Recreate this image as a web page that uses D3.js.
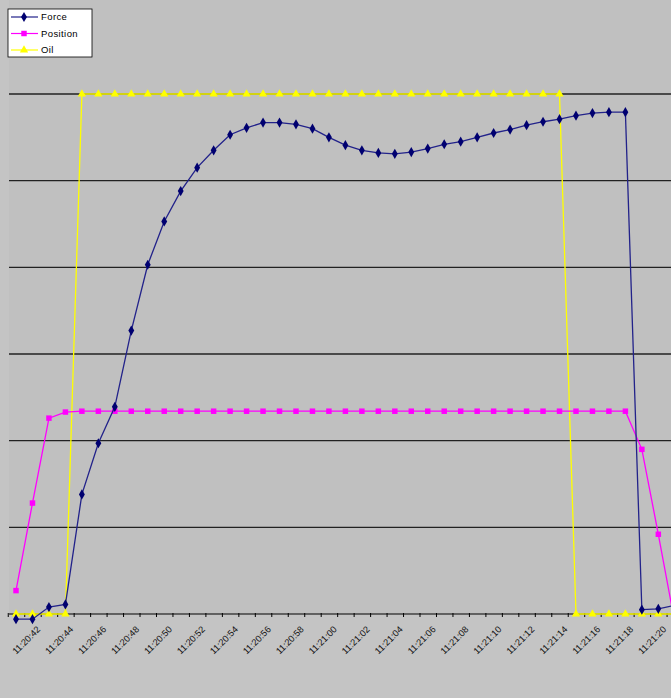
<!DOCTYPE html>
<html>
<head>
<meta charset="utf-8">
<script src="https://cdn.jsdelivr.net/npm/d3@7"></script>
<style>
  body { margin: 0; background: #c4c4c4; }
  svg { display: block; font-family: "Liberation Sans", Arial, sans-serif; }
</style>
</head>
<body>
<div id="chart"></div>
<script>
// categories (one reading per second)
var times = ["11:20:41", "11:20:42", "11:20:43", "11:20:44", "11:20:45", "11:20:46", "11:20:47",
	"11:20:48", "11:20:49", "11:20:50", "11:20:51", "11:20:52", "11:20:53", "11:20:54",
	"11:20:55", "11:20:56", "11:20:57", "11:20:58", "11:20:59", "11:21:00", "11:21:01",
	"11:21:02", "11:21:03", "11:21:04", "11:21:05", "11:21:06", "11:21:07", "11:21:08",
	"11:21:09", "11:21:10", "11:21:11", "11:21:12", "11:21:13", "11:21:14", "11:21:15",
	"11:21:16", "11:21:17", "11:21:18", "11:21:19", "11:21:20", "11:21:21"];

// tick labels shown under the axis
var timeLabels = ["11:20:42", "11:20:44", "11:20:46", "11:20:48", "11:20:50", "11:20:52",
	"11:20:54", "11:20:56", "11:20:58", "11:21:00", "11:21:02", "11:21:04", "11:21:06",
	"11:21:08", "11:21:10", "11:21:12", "11:21:14", "11:21:16", "11:21:18", "11:21:20"];

var force = [-0.06, -0.06, 0.08, 0.11, 1.38, 1.97, 2.39, 3.27, 4.03, 4.53, 4.88, 5.15, 5.35, 5.53,
	5.61, 5.67, 5.67, 5.65, 5.60, 5.50, 5.41, 5.35, 5.32, 5.31, 5.33, 5.37, 5.42, 5.45,
	5.50, 5.55, 5.59, 5.64, 5.68, 5.71, 5.75, 5.78, 5.79, 5.79, 0.05, 0.06, 0.10];

var position = [0.27, 1.28, 2.26, 2.33, 2.34, 2.34, 2.34, 2.34, 2.34, 2.34, 2.34, 2.34, 2.34, 2.34,
	2.34, 2.34, 2.34, 2.34, 2.34, 2.34, 2.34, 2.34, 2.34, 2.34, 2.34, 2.34, 2.34, 2.34,
	2.34, 2.34, 2.34, 2.34, 2.34, 2.34, 2.34, 2.34, 2.34, 2.34, 1.90, 0.92, -0.10];

var oil = [0, 0, 0, 0, 6, 6, 6, 6, 6, 6, 6, 6, 6, 6,
	6, 6, 6, 6, 6, 6, 6, 6, 6, 6, 6, 6, 6, 6,
	6, 6, 6, 6, 6, 6, 0, 0, 0, 0, 0, 0, 0];

var gridValues = [1, 2, 3, 4, 5, 6];

var Width = 671, Height = 698;
var plot = {left: 9, top: 0, right: 700, bottom: 614};

var series = [
	{name: "Force", values: force, color: "#000070", line: "#22228a", symbol: d3.symbolDiamond, size: 30},
	{name: "Position", values: position, color: "#ff00ff", line: "#ff00ff", symbol: d3.symbolSquare, size: 30},
	{name: "Oil", values: oil, color: "#ffff00", line: "#ffff00", symbol: d3.symbolTriangle, size: 30}
];

var svg = d3.select("#chart")
	.append("svg")
	.attr("width", Width)
	.attr("height", Height);

// plot area
svg.append("rect")
	.attr("x", plot.left)
	.attr("y", plot.top)
	.attr("width", plot.right - plot.left)
	.attr("height", plot.bottom - plot.top)
	.attr("fill", "#c0c0c0");

var xScale = d3.scalePoint()
	.domain(times)
	.range([16, 16 + 16.47 * (times.length - 1)]);

var yScale = d3.scaleLinear()
	.domain([0, 6])
	.range([614, 94]);

// horizontal gridlines
svg.append("g")
	.selectAll("line")
	.data(gridValues)
	.enter()
	.append("line")
	.attr("x1", plot.left)
	.attr("x2", plot.right)
	.attr("y1", function(d) { return yScale(d); })
	.attr("y2", function(d) { return yScale(d); })
	.attr("stroke", "#222")
	.attr("stroke-width", 1.3);

// tick marks sit between the categories
var step = xScale.step();
var tickAxis = svg.append("g")
	.attr("transform", "translate(" + (-step / 2) + "," + yScale(0) + ")")
	.call(d3.axisBottom(xScale).tickSize(3).tickSizeOuter(0).tickFormat(""));
tickAxis.select(".domain").remove();
tickAxis.selectAll("line").attr("stroke", "#000").attr("y1", -1);

// axis line
svg.append("line")
	.attr("x1", plot.left)
	.attr("x2", plot.right)
	.attr("y1", yScale(0))
	.attr("y2", yScale(0))
	.attr("stroke", "#000")
	.attr("stroke-width", 1.2);

// rotated time labels
var labelAxis = svg.append("g")
	.attr("transform", "translate(0," + yScale(0) + ")")
	.call(d3.axisBottom(xScale).tickValues(timeLabels).tickSize(0));
labelAxis.select(".domain").remove();
labelAxis.selectAll("text")
	.attr("font-family", "'Liberation Sans', Arial, sans-serif")
	.attr("font-size", 9.2)
	.attr("fill", "#111")
	.style("text-anchor", "end")
	.attr("x", 0)
	.attr("y", 0)
	.attr("dy", null)
	.attr("transform", "translate(8,16) rotate(-45)");

// series lines and markers
var lineGen = d3.line()
	.x(function(d, i) { return xScale(times[i]); })
	.y(function(d) { return yScale(d); });

// draw Oil first so Force and Position sit on top of it
series.slice().reverse().forEach(function(s) {
	svg.append("path")
		.datum(s.values)
		.attr("d", lineGen)
		.attr("fill", "none")
		.attr("stroke", s.line)
		.attr("stroke-width", 1.3);
	svg.append("g")
		.selectAll("path")
		.data(s.values)
		.enter()
		.append("path")
		.attr("d", d3.symbol().type(s.symbol).size(s.size))
		.attr("transform", function(d, i) { return "translate(" + xScale(times[i]) + "," + yScale(d) + ")"; })
		.attr("fill", s.color);
});

// legend
var legend = svg.append("g").attr("transform", "translate(8,9)");
legend.append("rect")
	.attr("width", 84)
	.attr("height", 48)
	.attr("fill", "#fff")
	.attr("stroke", "#000")
	.attr("stroke-width", 0.8);
var items = legend.selectAll("g.item")
	.data(series)
	.enter()
	.append("g")
	.attr("class", "item")
	.attr("transform", function(d, i) { return "translate(0," + (8 + i * 16.5) + ")"; });
items.append("line")
	.attr("x1", 3).attr("x2", 30)
	.attr("stroke", function(d) { return d.line; })
	.attr("stroke-width", 1.2);
items.append("path")
	.attr("d", function(d) { return d3.symbol().type(d.symbol).size(d.size)(); })
	.attr("transform", "translate(16,0)")
	.attr("fill", function(d) { return d.color; });
items.append("text")
	.attr("x", 33)
	.attr("dy", "0.35em")
	.attr("font-size", 9.5)
	.attr("letter-spacing", 0.4)
	.attr("fill", "#000")
	.text(function(d) { return d.name; });
</script>
</body>
</html>
